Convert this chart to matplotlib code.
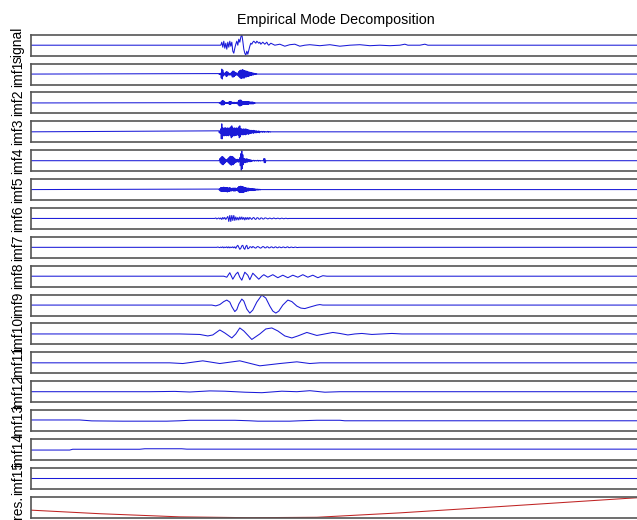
#!/usr/bin/env python3
"""Empirical Mode Decomposition: signal, 15 IMFs and residue stacked in thin strips."""
import numpy as np
import matplotlib
matplotlib.use("Agg")
import matplotlib.pyplot as plt

plt.rcParams["font.family"] = ["Liberation Sans", "DejaVu Sans"]

BLUE = "#1a1ad8"
RED = "#c02424"
SPINE = "#555555"
T_END = 610  # samples shown in each strip

labels = ["signal"] + [f"imf{i}" for i in range(1, 16)] + ["res."]

# --- signal: sparse samples (sample index, value) ---
signal_t = [0] + list(range(190, 241)) + [244, 249, 254, 259, 264, 269, 274, 279, 289, 299,
                                          309, 319, 329, 339, 349, 359, 369, 374, 377, 389,
                                          394, 397, 399, T_END]
signal_v = [0,
            0, 3, -2, 4, -3, 2, -4, 3, -2, 4, -1, 3, -6, -8, -3,
            1, 4, 0, 6, 3, 8, 11, 4, -4, -8, -10, -6, -9, -5, -1,
            2, 1, 3, 4, 3, 2, 4, 3, 2, 3, 1, 2, 3, 2, 1, 2, 3, 1, 0, 1, 2,
            0, 1, -1, 0.5, 1, -1, 0, 0.5, -0.5, 0.5, -1, 0, 0.5, -0.5, 0, -0.5,
            0, 1, 0, 0, 1, 0, 0, 0]

# --- high-frequency IMFs: uniformly sampled bursts (start sample, step, values) ---
imf1_start, imf1_step = 188, 0.5
imf1_v = [.5, -.5, .5, -.5, 1, -4, 5, -5, 4, -2, 1, -1, 1, -1, 2, -2.5, 2.5, -2, 2, -1,
          1, -1, .5, -1, 1, -1, 2, -3, 3, -3, 3, -2.5, 2, -1.5, 1.5, -1, 1, -1, 1, -2,
          2.5, -3, 3.5, -4, 4, -4.5, 4, -4, 4.5, -4, 3.5, -4, 3.5, -3, 3, -3, 3, -2.5, 2.5, -2.5,
          2, -2, 2, -1.5, 1.5, -1.5, 1.5, -1, 1, -1, 1, -.5, .5, -.5, .5, -.3, .3, 0, 0]

imf2_start, imf2_step = 188, 0.5
imf2_v = [.3, -.3, .5, -.5, 1, -2, 2, -2, 2.5, -2, 2, -1.5, 1, -.5, .5, -.5, .5, -.5, .5, -.5,
          1, -1.5, 1.5, -1.5, 1.5, -1, 1, -.5, .5, -.7, .7, -.7, .7, -.5, .5, -.7, .7, -.7,
          1, -2, 2.5, -3, 3, -3, 3, -2.5, 2, -2,
          1.5, -1.5, 1.5, -1.5, 1.5, -1.5, 1.5, -1.5, 1.5, -1.5, 1.5, -1.5, 1.5, -1, 1, -1, 1, -1,
          1, -1, 1, -1, .5, -.5, .3, -.3, 0]

imf3_start, imf3_step = 188, 0.5
imf3_v = [1, -1, 1, -1.5, 3, -7, 8, -7,
          4, -4, 3.5, -4, 4, -3.5, 4, -4, 3, -3.5, 4, -4, 3.5, -3, 4, -4,
          5, -6, 6, -5,
          4, -4, 3.5, -4, 4, -3.5, 3, -3.5, 4, -3, 3.5, -3.5,
          5, -6, 6, -5,
          3, -3, 3, -3, 2.5, -3, 3, -2.5, 2.5, -3, 3, -2.5, 2.5, -2, 2, -2.5, 2, -2,
          1.5, -1.5, 1.5, -1.5, 1.5, -1, 1, -1.5, 1.5, -1, 1, -1, 1, -1, 1, -.8,
          .5, -.5, 1, -1, .5, -.3, 0, 0, .5, -.5, 0, 0, .5, -.5, 0, 0, .3, -.3, 0, 0,
          .5, -.5, 0, 0, .3, -.3, 0, 0]

imf4_start, imf4_step = 188, 0.5
imf4_v = [0, 0,
          2, -2, 3, -3, 4, -4, 4, -4, 3, -3, 2, -2,
          1, -1, 1, -1,
          2, -2, 3, -3, 4, -4, 4.5, -4.5, 4, -4, 4, -4, 3, -3, 2, -2, 1.5, -1.5,
          1, -1, 1.5, -1.5, 1, -1,
          3, -5, 7, -10, 10, -8, 6, -4, 2, -2,
          2, -2, 1.5, -1.5, 2, -1.5, 1.5, -1, 1, -1, 1, -1, .8, -.8,
          .5, -.5, 0, 0, .5, -.5, 0, 0, .3, -.3, 0, 0, .5, -.5, 0, 0, .3, -.3, 0, 0,
          0, 0, 0, 0, 2, -2, 2, -2, 0, 0, 0, 0]

imf5_start, imf5_step = 188, 0.5
imf5_v = [.5, -.5, 1, -1.5, 2, -2, 2, -2, 2, -2, 2.5, -2, 2, -2, 2, -2, 2, -2.5, 2, -2,
          1.5, -2, 2, -1.5, 1.5, -1.5,
          1, -1, 1.5, -1.5, 1.5, -1.5, 1.5, -1.5, 1.5, -1, 1, -1,
          2, -2, 3, -3, 3, -3, 3.5, -3, 3, -3, 3, -3, 2.5, -2.5, 2, -2, 2, -2,
          1.5, -1.5, 1.5, -1.5, 1.5, -1, 1, -1, 1, -1, 1, -1, 1, -1, .8, -.8,
          .8, -.8, .5, -.5, .5, -.5, .5, -.5, .3, -.3, .3, -.3, 0, 0]

imf6_start, imf6_step = 184, 1.0
imf6_v = [0, .5, -.5, 0, .5, -.5, .5,
          -1, 1, -.5, 1, -1, .5,
          2, -3, 3, -3, 3, -2, 3, -2,
          1.5, -1.5, 1, -1.5, 1.5, -1, 1.5, -1, 1, -1.5, 1, -1, 1, -1,
          1, 0, -1, .5, 1, -.5, -1, .5, .8, -.5, -.8, .5, .5, -.5, -.5, .5,
          .5, 0, -.5, 0, .4, 0, -.4, 0, .5, 0, -.3, 0, .3, 0, -.4, 0, .3, 0, -.3, 0,
          .2, 0, -.2, 0, 0, 0]

imf7_start, imf7_step = 184, 1.0
imf7_v = [0, 0, 0, .3, 0, -.3, .3, -.3, .5, -.5, .3, -.3, .5, -.5, .5, -.5, .3, -.3, .5, -.5,
          .5, -1,
          1, 2, 0, -2, -1, 1.5, 2, -1, -2, 1, 2, -1.5, -1, .5,
          .5, -.5, .8, .3, -.5, -.8, .3, .8, .3, -.5, -.8, 0, .8, .5, -.5, -.5, .5, .5, -.5, -.5,
          .3, .5, -.3, -.5, .3, .5, -.3, -.5, .3, .3, -.3, -.3, .3, .3, -.3, -.3, .3, .5, -.3, -.3,
          .2, .2, -.2, -.2, .2, .2, -.2, -.2, 0, 0]

# --- lower-frequency IMFs: samples read along the waves (sample index, value) ---
imf8_t = [0, 193, 196, 199, 202, 205, 207, 209, 211, 214, 217, 219, 222, 225, 228, 231, 233,
          237, 242, 247, 252, 257, 262, 267, 272, 277, 282, 287, 292, 296, T_END]
imf8_v = [0, 0, -1, 3.5, -3, 2, 4, -1, -4, 4, 1, -3.5, 3, 0, -3, 0, 1.5,
          -1, 1.5, -1.5, 1, -1.5, 1, -1, 1.5, -1, 1, -1.5, .5, 0, 0]

imf9_t = [0, 181, 185, 189, 193, 196, 199, 201, 204, 206, 208, 211, 213, 216, 219, 222, 226,
          231, 235, 239, 242, 245, 248, 252, 257, 261, 266, 270, 274, 279, 286, 289, 292, T_END]
imf9_v = [0, 0, -.8, .5, 3.5, 5, 3, -1.5, -6.5, -4.5, 1, 6, 4, -4, -8, -5, 3,
          10, 7, -1, -6, -8, -6, 0, 5, 3.5, -1, -3, -3.5, -2, 0, .5, 0, 0]

imf10_t = [0, 149, 169, 177, 182, 189, 194, 201, 205, 209, 213, 221, 229, 235, 241, 247, 254,
           261, 267, 276, 281, 286, 294, 302, 309, 317, 324, 331, 341, 351, 361, 371, T_END]
imf10_v = [0, 0, -.5, -2, -1, 4, 1, -4, 0, 6, 3, -5.5, 0, 5, 6, 3, -2,
           -4, -2, 1.5, 0, -1.5, 0, 1.5, .5, -1, 0, .5, -.5, 0, .5, 0, 0]

imf11_t = [0, 139, 152, 172, 189, 209, 229, 249, 266, 279, 289, T_END]
imf11_v = [0, 0, -.7, 2, -.7, 2, -3, -.7, 1, -.7, 0, 0]

imf12_t = [0, 119, 144, 159, 179, 194, 214, 231, 251, 266, 279, 294, 309, T_END]
imf12_v = [0, 0, .3, -.3, .8, .5, -.5, -1, .5, 0, 1, -.5, 0, 0]

imf13_t = [0, 49, 61, 92, 136, 149, 159, 204, 219, 227, 259, 269, 286, 309, 314, T_END]
imf13_v = [.6, .6, -.3, -.6, -.6, -.2, .3, .3, -.2, -.6, -.6, -.2, .3, .3, -.2, -.2]

imf14_t = [0, 39, 42, 109, 114, 151, 156, T_END]
imf14_v = [-.6, -.6, .2, .2, .7, .7, .3, .3]

imf15_t = [0, T_END]
imf15_v = [0, 0]

# --- residue (trend) ---
res_t = [0, 69, 149, 219, 286, 369, 469, 596, T_END]
res_v = [0.36, 0.19, 0.04, 0.0, 0.02, 0.23, 0.53, 0.92, 0.96]


def burst(start, step, vals):
    t = start + step * np.arange(len(vals))
    return np.r_[0, t, T_END], np.r_[0, vals, 0]


rows = [(signal_t, signal_v),
        burst(imf1_start, imf1_step, imf1_v),
        burst(imf2_start, imf2_step, imf2_v),
        burst(imf3_start, imf3_step, imf3_v),
        burst(imf4_start, imf4_step, imf4_v),
        burst(imf5_start, imf5_step, imf5_v),
        burst(imf6_start, imf6_step, imf6_v),
        burst(imf7_start, imf7_step, imf7_v),
        (imf8_t, imf8_v), (imf9_t, imf9_v), (imf10_t, imf10_v), (imf11_t, imf11_v),
        (imf12_t, imf12_v), (imf13_t, imf13_v), (imf14_t, imf14_v), (imf15_t, imf15_v),
        (res_t, res_v)]

W, H = 637, 520
fig = plt.figure(figsize=(W / 100, H / 100), dpi=100)
left, right = 30.7, 641.0
top0, gap, hgt = 34.7, 28.875, 21.0

for k, ((t, v), lab) in enumerate(zip(rows, labels)):
    top = top0 + gap * k
    ax = fig.add_axes([left / W, 1 - (top + hgt) / H, (right - left) / W, hgt / H])
    is_res = k == len(rows) - 1
    ax.plot(t, v, color=RED if is_res else BLUE, lw=0.75)
    ax.set_xlim(0, T_END)
    ax.set_ylim((0, 1) if is_res else (-10.5, 10.5))
    ax.set_xticks([]); ax.set_yticks([])
    for s in ("top", "bottom", "left"):
        ax.spines[s].set_color(SPINE); ax.spines[s].set_linewidth(1.2)
    ax.spines["right"].set_visible(False)
    fig.text(18 / W, 1 - (top + hgt / 2) / H, lab, rotation=90, ha="center", va="center",
             fontsize=10)
    if k == 0:
        ax.set_title("Empirical Mode Decomposition", fontsize=10.3, pad=8)

fig.savefig("out.png", dpi=100)
